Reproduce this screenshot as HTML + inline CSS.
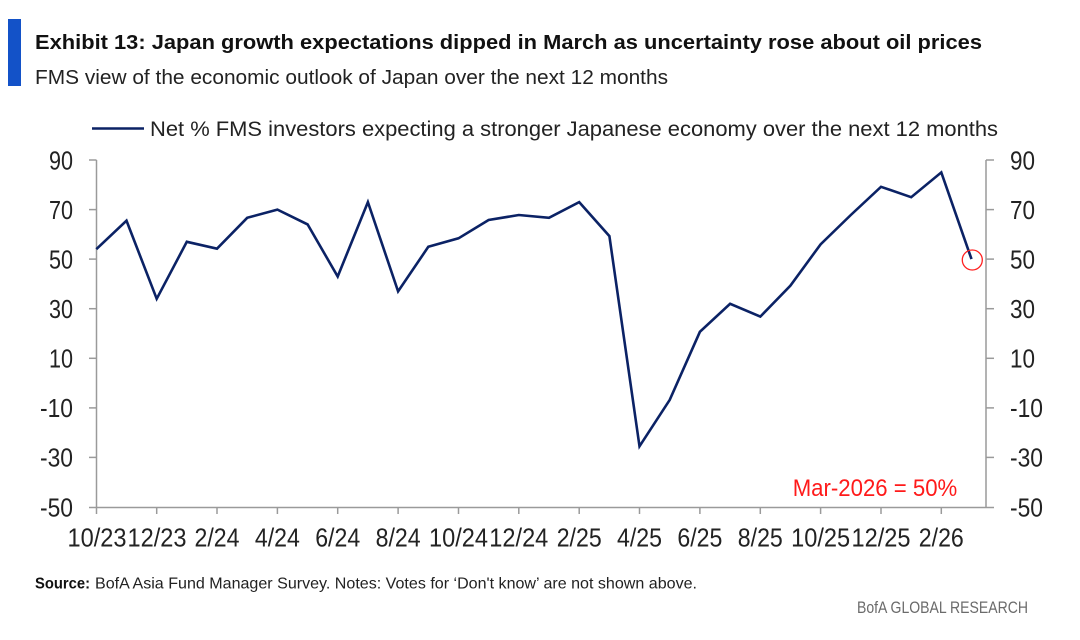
<!DOCTYPE html>
<html>
<head>
<meta charset="utf-8">
<style>
  html,body{margin:0;padding:0;background:#fff;}
  body{width:1080px;height:640px;overflow:hidden;}
  svg{display:block;}
  text{font-family:"Liberation Sans",sans-serif;}
</style>
</head>
<body>
<svg width="1080" height="640" viewBox="0 0 1080 640" xmlns="http://www.w3.org/2000/svg">
  <rect x="0" y="0" width="1080" height="640" fill="#fff"/>
  <!-- header bar -->
  <rect x="8" y="19" width="13" height="67" fill="#1352c8"/>
  <text x="35" y="49" font-size="20" font-weight="bold" fill="#111" textLength="947" lengthAdjust="spacingAndGlyphs">Exhibit 13: Japan growth expectations dipped in March as uncertainty rose about oil prices</text>
  <text x="35" y="84" font-size="20" fill="#222" textLength="633" lengthAdjust="spacingAndGlyphs">FMS view of the economic outlook of Japan over the next 12 months</text>

  <!-- legend -->
  <line x1="92" y1="128.5" x2="144" y2="128.5" stroke="#0b2265" stroke-width="2.5"/>
  <text x="150" y="136" font-size="21" fill="#222" textLength="848" lengthAdjust="spacingAndGlyphs">Net % FMS investors expecting a stronger Japanese economy over the next 12 months</text>

  <!-- axes -->
  <g stroke="#9a9a9a" stroke-width="1.5" fill="none">
    <line x1="96.5" y1="160" x2="96.5" y2="507.5"/>
    <line x1="986" y1="160" x2="986" y2="507.5"/>
    <line x1="96.5" y1="507.5" x2="986" y2="507.5"/>
    <!-- left ticks -->
    <line x1="89" y1="160" x2="96.5" y2="160"/>
    <line x1="89" y1="209.6" x2="96.5" y2="209.6"/>
    <line x1="89" y1="259.1" x2="96.5" y2="259.1"/>
    <line x1="89" y1="308.7" x2="96.5" y2="308.7"/>
    <line x1="89" y1="358.3" x2="96.5" y2="358.3"/>
    <line x1="89" y1="407.9" x2="96.5" y2="407.9"/>
    <line x1="89" y1="457.4" x2="96.5" y2="457.4"/>
    <line x1="89" y1="507.5" x2="96.5" y2="507.5"/>
    <!-- right ticks -->
    <line x1="986" y1="160" x2="994" y2="160"/>
    <line x1="986" y1="209.6" x2="994" y2="209.6"/>
    <line x1="986" y1="259.1" x2="994" y2="259.1"/>
    <line x1="986" y1="308.7" x2="994" y2="308.7"/>
    <line x1="986" y1="358.3" x2="994" y2="358.3"/>
    <line x1="986" y1="407.9" x2="994" y2="407.9"/>
    <line x1="986" y1="457.4" x2="994" y2="457.4"/>
    <line x1="986" y1="507.5" x2="994" y2="507.5"/>
    <!-- x ticks -->
    <line x1="96.5" y1="507.5" x2="96.5" y2="514"/>
    <line x1="156.7" y1="507.5" x2="156.7" y2="514"/>
    <line x1="217.0" y1="507.5" x2="217.0" y2="514"/>
    <line x1="277.4" y1="507.5" x2="277.4" y2="514"/>
    <line x1="337.7" y1="507.5" x2="337.7" y2="514"/>
    <line x1="398.1" y1="507.5" x2="398.1" y2="514"/>
    <line x1="458.5" y1="507.5" x2="458.5" y2="514"/>
    <line x1="518.8" y1="507.5" x2="518.8" y2="514"/>
    <line x1="579.2" y1="507.5" x2="579.2" y2="514"/>
    <line x1="639.5" y1="507.5" x2="639.5" y2="514"/>
    <line x1="699.9" y1="507.5" x2="699.9" y2="514"/>
    <line x1="760.3" y1="507.5" x2="760.3" y2="514"/>
    <line x1="820.6" y1="507.5" x2="820.6" y2="514"/>
    <line x1="881.0" y1="507.5" x2="881.0" y2="514"/>
    <line x1="941.3" y1="507.5" x2="941.3" y2="514"/>
  </g>

  <!-- left y labels -->
  <g font-size="26" fill="#222" text-anchor="end">
    <text x="73" y="169.5" textLength="24" lengthAdjust="spacingAndGlyphs">90</text>
    <text x="73" y="219" textLength="24" lengthAdjust="spacingAndGlyphs">70</text>
    <text x="73" y="268.5" textLength="24" lengthAdjust="spacingAndGlyphs">50</text>
    <text x="73" y="318" textLength="24" lengthAdjust="spacingAndGlyphs">30</text>
    <text x="73" y="367.5" textLength="24" lengthAdjust="spacingAndGlyphs">10</text>
    <text x="73" y="417" textLength="33" lengthAdjust="spacingAndGlyphs">-10</text>
    <text x="73" y="466.5" textLength="33" lengthAdjust="spacingAndGlyphs">-30</text>
    <text x="73" y="516.5" textLength="33" lengthAdjust="spacingAndGlyphs">-50</text>
  </g>
  <!-- right y labels -->
  <g font-size="26" fill="#222">
    <text x="1010" y="169.5" textLength="25" lengthAdjust="spacingAndGlyphs">90</text>
    <text x="1010" y="219" textLength="25" lengthAdjust="spacingAndGlyphs">70</text>
    <text x="1010" y="268.5" textLength="25" lengthAdjust="spacingAndGlyphs">50</text>
    <text x="1010" y="318" textLength="25" lengthAdjust="spacingAndGlyphs">30</text>
    <text x="1010" y="367.5" textLength="25" lengthAdjust="spacingAndGlyphs">10</text>
    <text x="1010" y="417" textLength="33" lengthAdjust="spacingAndGlyphs">-10</text>
    <text x="1010" y="466.5" textLength="33" lengthAdjust="spacingAndGlyphs">-30</text>
    <text x="1010" y="516.5" textLength="33" lengthAdjust="spacingAndGlyphs">-50</text>
  </g>

  <!-- x labels -->
  <g font-size="26" fill="#222" text-anchor="middle">
    <text x="97" y="546.5" textLength="59" lengthAdjust="spacingAndGlyphs">10/23</text>
    <text x="157" y="546.5" textLength="59" lengthAdjust="spacingAndGlyphs">12/23</text>
    <text x="217" y="546.5" textLength="45" lengthAdjust="spacingAndGlyphs">2/24</text>
    <text x="277.4" y="546.5" textLength="45" lengthAdjust="spacingAndGlyphs">4/24</text>
    <text x="337.7" y="546.5" textLength="45" lengthAdjust="spacingAndGlyphs">6/24</text>
    <text x="398.1" y="546.5" textLength="45" lengthAdjust="spacingAndGlyphs">8/24</text>
    <text x="458.5" y="546.5" textLength="59" lengthAdjust="spacingAndGlyphs">10/24</text>
    <text x="518.8" y="546.5" textLength="59" lengthAdjust="spacingAndGlyphs">12/24</text>
    <text x="579.2" y="546.5" textLength="45" lengthAdjust="spacingAndGlyphs">2/25</text>
    <text x="639.5" y="546.5" textLength="45" lengthAdjust="spacingAndGlyphs">4/25</text>
    <text x="699.9" y="546.5" textLength="45" lengthAdjust="spacingAndGlyphs">6/25</text>
    <text x="760.3" y="546.5" textLength="45" lengthAdjust="spacingAndGlyphs">8/25</text>
    <text x="820.6" y="546.5" textLength="59" lengthAdjust="spacingAndGlyphs">10/25</text>
    <text x="881" y="546.5" textLength="59" lengthAdjust="spacingAndGlyphs">12/25</text>
    <text x="941.3" y="546.5" textLength="45" lengthAdjust="spacingAndGlyphs">2/26</text>
  </g>

  <!-- series -->
  <polyline fill="none" stroke="#0b2265" stroke-width="2.6" stroke-linejoin="miter" stroke-miterlimit="10"
    points="96.3,249.2 126.5,220.7 156.7,298.8 186.8,241.8 217.0,248.7 247.2,217.8 277.4,209.6 307.6,224.4 337.7,276.5 367.9,202.1 398.1,291.4 428.3,246.8 458.5,238.3 488.6,220 518.8,215 549.0,217.8 579.2,202.1 609.4,236.1 639.5,446.3 669.7,399.9 699.9,331.8 730.1,303.8 760.3,316.6 790.4,285.7 820.6,244.3 850.8,215 881.0,186.8 911.2,197.2 941.3,172.4 971.5,259.1"/>

  <!-- annotation -->
  <circle cx="972.3" cy="260" r="10" fill="none" stroke="#ff2020" stroke-width="1.3"/>
  <text x="792.7" y="496" font-size="24" fill="#ff1a1a" textLength="164.6" lengthAdjust="spacingAndGlyphs">Mar-2026 = 50%</text>

  <!-- footer -->
  <text x="35" y="588.5" font-size="16" font-weight="bold" fill="#111" textLength="55" lengthAdjust="spacingAndGlyphs">Source:</text>
  <text x="95" y="588.5" font-size="16" fill="#222" textLength="602" lengthAdjust="spacingAndGlyphs">BofA Asia Fund Manager Survey. Notes: Votes for ‘Don't know’ are not shown above.</text>
  <text x="857" y="613" font-size="17" fill="#6b6b6b" textLength="171" lengthAdjust="spacingAndGlyphs">BofA GLOBAL RESEARCH</text>
</svg>
</body>
</html>
